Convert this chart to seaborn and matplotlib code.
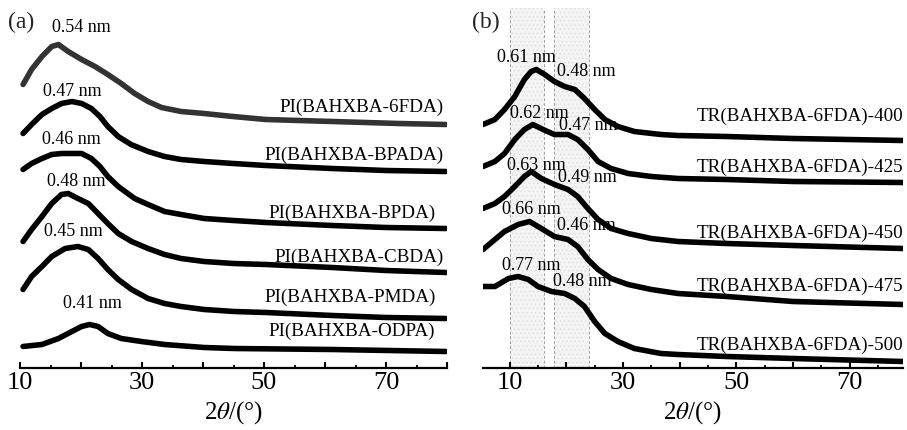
import numpy as np
import pandas as pd
import matplotlib
matplotlib.use("Agg")
import matplotlib.pyplot as plt
import seaborn as sns
from matplotlib.ticker import MultipleLocator

# ---------------- data ----------------
# Panel (a): stacked XRD intensities (a.u., offset included)
a_names = ["PI(BAHXBA-6FDA)", "PI(BAHXBA-BPADA)", "PI(BAHXBA-BPDA)",
           "PI(BAHXBA-CBDA)", "PI(BAHXBA-PMDA)", "PI(BAHXBA-ODPA)"]
a_6fda_x = [10.5, 11.9, 13.6, 15.2, 16.3, 17.9, 20.1, 22.3, 24.4, 26.6, 28.8, 31.0, 33.2, 36.4, 40.2, 44.9, 50.3, 61.2, 72.1, 79.8]
a_6fda_y = [283, 298, 311, 321, 323, 316, 308, 301, 293, 284, 274, 266, 260, 256, 254, 251, 248, 246, 244, 243]
a_bpada_x = [10.5, 11.9, 13.6, 15.2, 16.8, 18.5, 20.1, 21.7, 23.1, 24.4, 26.1, 28.2, 31.0, 33.7, 36.4, 40.2, 45.0, 50.3, 61.2, 70.0, 79.8]
a_bpada_y = [234, 243, 253, 259, 264, 266, 264, 259, 251, 241, 231, 223, 216, 211, 208, 206, 204, 202, 199, 197, 196]
a_bpda_x = [10.5, 11.9, 13.6, 15.2, 16.8, 18.5, 20.1, 21.7, 23.1, 24.4, 26.1, 28.8, 31.0, 33.7, 36.4, 40.2, 45.0, 50.3, 61.2, 70.0, 79.8]
a_bpda_y = [198, 204, 209, 213, 214, 214, 214, 209, 201, 191, 181, 169, 163, 156, 153, 149, 147, 145, 142, 140, 139]
a_cbda_x = [10.5, 11.9, 13.6, 15.2, 16.8, 17.9, 19.5, 21.2, 22.8, 24.4, 26.1, 28.3, 31.0, 33.7, 36.4, 40.2, 45.0, 50.3, 61.2, 70.0, 79.8]
a_cbda_y = [126, 138, 151, 164, 173, 174, 169, 164, 154, 144, 134, 126, 119, 113, 109, 106, 104, 103, 100, 97, 95]
a_pmda_x = [10.5, 11.9, 13.6, 15.2, 17.4, 19.5, 21.2, 22.8, 24.4, 26.1, 28.3, 31.0, 33.7, 36.4, 40.2, 45.1, 50.3, 61.2, 70.0, 79.8]
a_pmda_y = [78, 91, 101, 111, 119, 121, 118, 109, 98, 88, 78, 69, 64, 61, 58, 56, 55, 52, 50, 49]
a_odpa_x = [10.5, 13.6, 16.3, 18.5, 20.1, 21.4, 22.8, 24.4, 26.6, 29.9, 33.7, 40.2, 45.1, 61.2, 79.8]
a_odpa_y = [21, 23, 29, 36, 41, 43, 41, 34, 29, 26, 23, 20, 19, 18, 16]
a_peaks = ["0.54 nm", "0.47 nm", "0.46 nm", "0.48 nm", "0.45 nm", "0.41 nm"]

# Panel (b)
b_names = ["TR(BAHXBA-6FDA)-400", "TR(BAHXBA-6FDA)-425", "TR(BAHXBA-6FDA)-450",
           "TR(BAHXBA-6FDA)-475", "TR(BAHXBA-6FDA)-500"]
b_400_x = [5.3, 7.4, 9.1, 10.9, 12.6, 13.8, 14.7, 16.2, 17.9, 19.7, 21.5, 23.2, 25.0, 26.8, 29.1, 32.0, 36.7, 39.7, 48.3, 60.0, 79.4]
b_400_y = [243, 248, 258, 271, 288, 296, 298, 293, 286, 281, 278, 269, 258, 248, 241, 236, 233, 232, 231, 229, 227]
b_425_x = [5.3, 7.4, 9.1, 10.9, 12.6, 14.1, 15.9, 17.9, 20.3, 22.0, 23.8, 25.6, 27.9, 30.9, 35.0, 39.7, 48.3, 60.0, 79.4]
b_425_y = [201, 206, 214, 228, 238, 243, 238, 233, 233, 228, 218, 206, 199, 194, 191, 189, 188, 186, 185]
b_450_x = [5.3, 7.4, 9.1, 10.9, 12.6, 13.8, 15.6, 17.9, 20.3, 22.0, 23.8, 25.6, 27.9, 30.9, 35.0, 39.7, 48.3, 60.0, 79.4]
b_450_y = [159, 164, 171, 181, 191, 196, 189, 183, 178, 171, 159, 148, 139, 134, 129, 126, 124, 122, 119]
b_475_x = [5.3, 7.4, 9.1, 11.5, 13.5, 15.6, 17.9, 20.3, 22.0, 23.8, 25.6, 27.9, 30.9, 35.0, 39.7, 48.3, 60.0, 79.4]
b_475_y = [118, 128, 136, 143, 146, 139, 131, 128, 121, 108, 98, 89, 83, 78, 74, 71, 66, 63]
b_500_x = [5.3, 7.4, 9.8, 11.5, 13.3, 15.0, 17.4, 19.7, 21.5, 23.2, 25.0, 26.8, 29.1, 32.0, 36.7, 39.7, 48.3, 60.0, 79.4]
b_500_y = [81, 81, 89, 91, 88, 81, 76, 74, 69, 61, 46, 34, 26, 19, 14, 13, 11, 9, 6]
b_peaks_low = ["0.61 nm", "0.62 nm", "0.63 nm", "0.66 nm", "0.77 nm"]
b_peaks_high = ["0.48 nm", "0.47 nm", "0.49 nm", "0.46 nm", "0.48 nm"]
b_bands = [(10, 16), (17.8, 24)]

tick_vals_a = [10, 20, 30, 40, 50, 60, 70, 80]
tick_vals_b = [10, 20, 30, 40, 50, 60, 70]
tick_labels_a = ["10", "", "30", "", "50", "", "70", ""]
tick_labels_b = ["10", "", "30", "", "50", "", "70"]

# ---------------- build tables ----------------
def build(names, xs, ys):
    frames = []
    for n, x, y in zip(names, xs, ys):
        frames.append(pd.DataFrame({"two_theta": x, "intensity": y, "sample": n}))
    return pd.concat(frames, ignore_index=True)

df_a = build(a_names,
             [a_6fda_x, a_bpada_x, a_bpda_x, a_cbda_x, a_pmda_x, a_odpa_x],
             [a_6fda_y, a_bpada_y, a_bpda_y, a_cbda_y, a_pmda_y, a_odpa_y])
df_b = build(b_names,
             [b_400_x, b_425_x, b_450_x, b_475_x, b_500_x],
             [b_400_y, b_425_y, b_450_y, b_475_y, b_500_y])

# ---------------- style ----------------
sns.set_theme(style="white")
plt.rcParams["font.family"] = ["Liberation Serif", "DejaVu Serif"]
plt.rcParams["mathtext.fontset"] = "stix"
plt.rcParams["hatch.linewidth"] = 0.4

fig = plt.figure(figsize=(9.07, 4.30), dpi=100)
bottom = (430 - 367.5) / 430
height = (367.5 - 8) / 430
axa = fig.add_axes([20 / 907, bottom, 427 / 907, height])
axb = fig.add_axes([483 / 907, bottom, 420 / 907, height])

pal_a = {n: "black" for n in a_names}
pal_a[a_names[0]] = "#333333"
pal_b = {n: "black" for n in b_names}

# shaded bands in (b)
for lo, hi in b_bands:
    axb.axvspan(lo, hi, facecolor="#f4f4f4", edgecolor="#dadada", hatch="....",
                lw=0, zorder=0)
    for v in (lo, hi):
        axb.axvline(v, color="#a0a0a0", lw=0.7, ls=(0, (3, 2)), zorder=0.5)

sns.lineplot(data=df_a, x="two_theta", y="intensity", hue="sample", palette=pal_a,
             estimator=None, legend=False, lw=4.0, ax=axa)
sns.lineplot(data=df_b, x="two_theta", y="intensity", hue="sample", palette=pal_b,
             estimator=None, legend=False, lw=4.0, ax=axb)

for ax, xl, tv, tl in ((axa, (10, 79.8), tick_vals_a, tick_labels_a),
                       (axb, (5.3, 79.4), tick_vals_b, tick_labels_b)):
    ax.set_xlim(*xl)
    ax.set_ylim(0, 359.5)
    ax.set_xticks(tv)
    ax.set_xticklabels(tl)
    ax.xaxis.set_minor_locator(MultipleLocator(5))
    ax.set_yticks([])
    ax.set_ylabel("")
    ax.set_facecolor("none")
    for s in ("left", "top", "right"):
        ax.spines[s].set_visible(False)
    ax.spines["bottom"].set_linewidth(1.6)
    ax.spines["bottom"].set_color("black")
    ax.tick_params(axis="x", which="major", direction="in", length=4, width=1.5,
                   labelsize=19, pad=3, colors="black", bottom=True)
    ax.tick_params(axis="x", which="minor", direction="in", length=2.5, width=1.3,
                   bottom=True, colors="black")
    ax.set_xlabel(r"2$\theta$/(°)", fontsize=18, labelpad=4, color="black")

# ---------------- annotations (a) ----------------
a_peak_pos = [(20.0, 339.5), (18.5, 276.5), (18.5, 227.5), (19.15, 186.5), (18.8, 136.5), (21.8, 64.5)]
for t, (x, y) in zip(a_peaks, a_peak_pos):
    axa.text(x, y, t, fontsize=13, ha="center", va="center", color="black")
a_label_pos = [(79.4, 260.5), (79.4, 212.5), (78.1, 154.5), (79.4, 110.5), (78.1, 70.5), (78.1, 36.5)]
for t, (x, y) in zip(a_names, a_label_pos):
    axa.text(x, y, t, fontsize=13.8, ha="right", va="center", color="black")

# ---------------- annotations (b) ----------------
b_low_pos = [(13.05, 310.5), (15.3, 254.5), (14.8, 202.5), (13.9, 157.5), (13.9, 101.5)]
b_high_pos = [(23.5, 295.5), (23.8, 242.5), (23.8, 190.5), (23.5, 141.5), (22.75, 85.5)]
for t, (x, y) in zip(b_peaks_low, b_low_pos):
    axb.text(x, y, t, fontsize=13, ha="center", va="center", color="black")
for t, (x, y) in zip(b_peaks_high, b_high_pos):
    axb.text(x, y, t, fontsize=13, ha="center", va="center", color="black")
b_label_y = [251.5, 200.5, 134.5, 81.5, 22.5]
for t, y in zip(b_names, b_label_y):
    axb.text(79.4, y, t, fontsize=13.8, ha="right", va="center", color="black")

fig.text(8 / 907, 1 - 22 / 430, "(a)", fontsize=17, ha="left", va="center")
fig.text(472 / 907, 1 - 22 / 430, "(b)", fontsize=17, ha="left", va="center")

fig.savefig("out.png", dpi=100, facecolor="white")
